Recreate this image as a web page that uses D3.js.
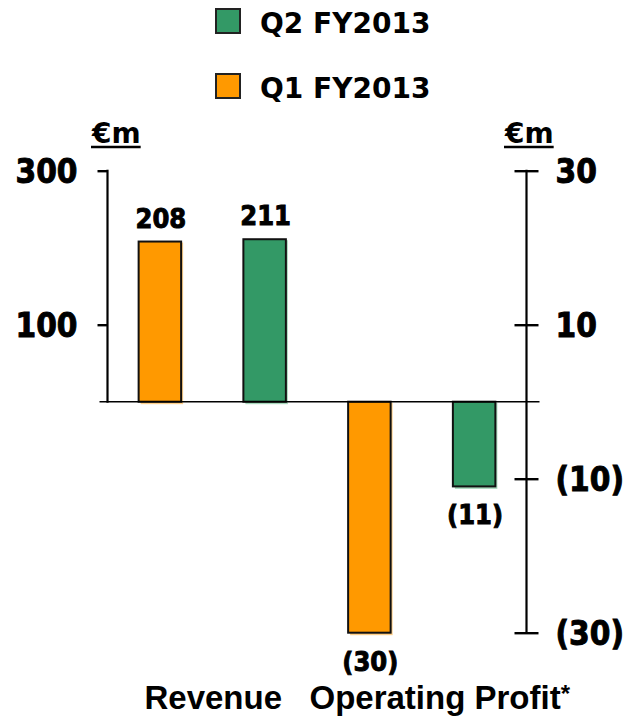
<!DOCTYPE html>
<html>
<head>
<meta charset="utf-8">
<script src="https://cdn.jsdelivr.net/npm/d3@7/dist/d3.min.js"></script>
<style>
  html, body { margin: 0; padding: 0; background: #fff; }
  svg { display: block; }
  .num { font-family: "DejaVu Sans Condensed", "DejaVu Sans", sans-serif; font-stretch: condensed; font-weight: bold; fill: #000; stroke: #000; stroke-width: 0.9px; }
  .legend { font-family: "DejaVu Sans", sans-serif; font-weight: bold; fill: #000; }
  .unit { font-family: "DejaVu Sans", sans-serif; font-weight: bold; fill: #000; }
  .cat { font-family: "Liberation Sans", Arial, sans-serif; font-weight: bold; fill: #000; }
</style>
</head>
<body>
<svg id="chart" width="630" height="721"></svg>
<script>
// Groups along the x axis and the two quarters shown in each
const groups = ["Revenue", "Operating Profit"];
const series = ["Q1 FY2013", "Q2 FY2013"];
const legendOrder = ["Q2 FY2013", "Q1 FY2013"];

// Values in €m: revenue on the left axis, operating profit on the right axis
const revenueValues = [208, 211];
const profitValues = [-30, -11];

// Tick values for both axes
const leftTicks = [300, 100];
const rightTicks = [30, 10, -10, -30];

const colors = { "Q1 FY2013": "#ff9900", "Q2 FY2013": "#339966" };
const glowColors = { "Q1 FY2013": "#ffd08a", "Q2 FY2013": "#a8d9bd" };

const svg = d3.select("#chart");

// Vertical scales share the same zero line
const yTop = 170.7, yBottom = 632.7;
const yLeft = d3.scaleLinear().domain([-300, 300]).range([yBottom, yTop]);
const yRight = d3.scaleLinear().domain([-30, 30]).range([yBottom, yTop]);

const leftAxisX = 107.5, rightAxisX = 526.5;
const xGroup = d3.scaleBand().domain(groups).range([leftAxisX, rightAxisX]).padding(0);
const xSeries = d3.scalePoint().domain(series).range([0, xGroup.bandwidth()]).padding(0.5);
const barWidth = 42.5;

const fmt = v => v < 0 ? "(" + Math.abs(v) + ")" : String(v);

// Data rows, each tied to the axis it is measured on
const rows = [];
groups.forEach((g, gi) => {
  series.forEach((s, si) => {
    const value = gi === 0 ? revenueValues[si] : profitValues[si];
    const scale = gi === 0 ? yLeft : yRight;
    rows.push({ group: g, series: s, value, scale });
  });
});

const barX = d => xGroup(d.group) + xSeries(d.series) - barWidth / 2;
const barY = d => Math.min(d.scale(d.value), d.scale(0));
const barH = d => Math.abs(d.scale(d.value) - d.scale(0));

// Soft shading along the right and lower edges of each bar
svg.append("g").selectAll("rect").data(rows).join("rect")
  .attr("x", d => barX(d) + 2)
  .attr("y", d => barY(d) + 1)
  .attr("width", barWidth)
  .attr("height", d => barH(d) + 1.5)
  .attr("fill", d => glowColors[d.series]);

// Bars
svg.append("g").selectAll("rect").data(rows).join("rect")
  .attr("x", barX)
  .attr("y", barY)
  .attr("width", barWidth)
  .attr("height", barH)
  .attr("fill", d => colors[d.series])
  .attr("stroke", "#111")
  .attr("stroke-width", 2);

// Zero line
svg.append("line")
  .attr("x1", leftAxisX - 8).attr("x2", rightAxisX + 13)
  .attr("y1", yLeft(0)).attr("y2", yLeft(0))
  .attr("stroke", "#000").attr("stroke-width", 1.6);

// Left axis (revenue)
const leftAxis = d3.axisLeft(yLeft).tickValues(leftTicks).tickSize(10).tickFormat(fmt);
const gl = svg.append("g").attr("transform", `translate(${leftAxisX},0)`).call(leftAxis);
gl.select(".domain").remove();
gl.append("line").attr("x1", 0).attr("x2", 0).attr("y1", yLeft(300) - 1).attr("y2", yLeft(0) + 1)
  .attr("stroke", "#000").attr("stroke-width", 2.2);
gl.selectAll(".tick line").attr("stroke", "#000").attr("stroke-width", 2.4);
gl.selectAll(".tick text").attr("class", "num").attr("x", -30).attr("dy", "0.36em")
  .style("font-size", "33px");
gl.attr("font-family", null).attr("font-size", null);

// Right axis (operating profit)
const rightAxis = d3.axisRight(yRight).tickValues(rightTicks).tickSize(12).tickFormat(fmt);
const gr = svg.append("g").attr("transform", `translate(${rightAxisX},0)`).call(rightAxis);
gr.select(".domain").remove();
gr.append("line").attr("x1", 0).attr("x2", 0).attr("y1", yRight(30) - 1).attr("y2", yRight(-30) + 1)
  .attr("stroke", "#000").attr("stroke-width", 2.2);
gr.selectAll(".tick line").attr("x1", -12).attr("x2", 12).attr("stroke", "#000").attr("stroke-width", 2.4);
gr.selectAll(".tick text").attr("class", "num").attr("x", 29).attr("dy", "0.36em")
  .style("font-size", "33px");
gr.attr("font-family", null).attr("font-size", null);

// Unit captions above each axis, underlined
function unitLabel(x) {
  const t = svg.append("text").attr("class", "unit").attr("x", x).attr("y", 143)
    .style("font-size", "28px").text("€m");
  const bb = t.node().getBBox();
  svg.append("line").attr("x1", bb.x).attr("x2", bb.x + bb.width)
    .attr("y1", 147).attr("y2", 147).attr("stroke", "#000").attr("stroke-width", 2.5);
}
unitLabel(leftAxisX - 15.5);
unitLabel(rightAxisX - 21.5);

// Value labels above positive bars, below negative ones
svg.append("g").selectAll("text").data(rows).join("text")
  .attr("class", "num")
  .attr("text-anchor", "middle")
  .attr("x", d => xGroup(d.group) + xSeries(d.series) + 1)
  .attr("y", d => d.value >= 0 ? d.scale(d.value) - 14 : d.scale(d.value) + 38)
  .style("font-size", "27px")
  .text(d => fmt(d.value));

// Legend
const legend = svg.append("g");
legendOrder.forEach((s, i) => {
  const y0 = 9 + i * 65;
  legend.append("rect").attr("x", 216).attr("y", y0).attr("width", 24).attr("height", 24)
    .attr("fill", colors[s]).attr("stroke", "#222").attr("stroke-width", 2);
  legend.append("text").attr("class", "legend").attr("x", 260).attr("y", y0 + 24)
    .style("font-size", "28px").text(s);
});

// Group captions along the bottom
const catY = 709;
svg.append("text").attr("class", "cat").attr("text-anchor", "middle")
  .attr("x", xGroup(groups[0]) + xGroup.bandwidth() / 2 + 1)
  .attr("y", catY).style("font-size", "33px").text(groups[0]);
const op = svg.append("text").attr("class", "cat").attr("text-anchor", "middle")
  .attr("x", xGroup(groups[1]) + xGroup.bandwidth() / 2 + 18)
  .attr("y", catY).style("font-size", "33px");
op.append("tspan").text(groups[1]);
op.append("tspan").style("font-size", "24px").attr("dy", -7).text("*");
</script>
</body>
</html>
